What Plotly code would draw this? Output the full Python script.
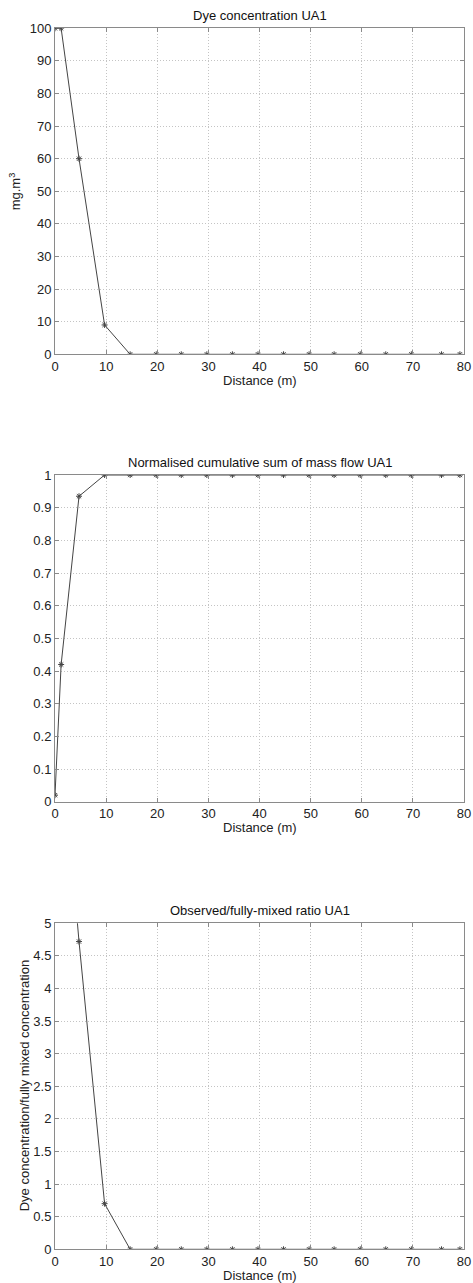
import plotly.graph_objects as go

distance = [0, 1.2, 4.7, 9.7, 14.7, 19.8, 24.7, 29.7, 34.7, 39.7, 44.7, 49.7,
            54.6, 59.7, 64.7, 69.7, 75.6, 79.2]
dye_conc = [100, 100, 60, 9, 0, 0, 0, 0, 0, 0, 0, 0, 0, 0, 0, 0, 0, 0]
cum_mass = [0.02, 0.42, 0.935, 1, 1, 1, 1, 1, 1, 1, 1, 1, 1, 1, 1, 1, 1, 1]
ratio = [7.87, 7.87, 4.72, 0.70, 0, 0, 0, 0, 0, 0, 0, 0, 0, 0, 0, 0, 0, 0]

titles = ["Dye concentration UA1",
          "Normalised cumulative sum of mass flow UA1",
          "Observed/fully-mixed ratio UA1"]
xlabel = "Distance (m)"
ylabels = ["mg.m<sup>3</sup>", "", "Dye concentration/fully mixed concentration"]
yranges = [[0, 100], [0, 1], [0, 5]]
ydticks = [10, 0.1, 0.5]
series = [dye_conc, cum_mass, ratio]

W, H = 473, 1283
L = 55
# plot areas in pixels (top, bottom)
areas = [(28.3, 354.3), (475.0, 801.7), (923.3, 1249.3)]
ylabel_x = [15, 0, 24]

fig = go.Figure()
font = "Liberation Sans, Arial, sans-serif"
for i in range(3):
    n = "" if i == 0 else str(i + 1)
    fig.add_trace(go.Scatter(
        x=distance, y=series[i], mode="lines+markers",
        line=dict(color="#444444", width=1),
        marker=dict(symbol="asterisk-open", size=5,
                    line=dict(color="#555555", width=1)),
        xaxis="x" + n, yaxis="y" + n, showlegend=False))
    top, bot = areas[i]
    dom = [1 - bot / H, 1 - top / H]
    common = dict(showline=True, linecolor="#8a8a8a", linewidth=1, mirror="ticks",
                  ticks="inside", ticklen=4, tickcolor="#8a8a8a",
                  showgrid=True, gridcolor="#c4c4c4", griddash="1px,2px", gridwidth=1,
                  zeroline=False, automargin=False, ticklabeloverflow="allow",
                  tickfont=dict(family=font, size=13, color="#222"))
    fig.layout["xaxis" + n] = dict(
        domain=[0, 1], range=[0, 80], dtick=10, tick0=0, anchor="y" + n,
        **common)
    fig.layout["yaxis" + n] = dict(
        domain=dom, range=yranges[i], dtick=ydticks[i], tick0=0, anchor="x" + n,
        **common)
    fig.add_annotation(
        text=titles[i], xref="paper", yref="paper", x=0.5, y=dom[1],
        yshift=13, xanchor="center", yanchor="middle", showarrow=False,
        font=dict(family=font, size=13, color="#111"))
    fig.add_annotation(
        text=xlabel, xref="paper", yref="paper", x=0.5, y=dom[0],
        yshift=-26, xanchor="center", yanchor="middle", showarrow=False,
        font=dict(family=font, size=13, color="#222"))
    if ylabels[i]:
        fig.add_annotation(
            text=ylabels[i], xref="paper", yref="paper", x=0,
            y=(dom[0] + dom[1]) / 2, xshift=ylabel_x[i] - L, textangle=-90,
            xanchor="center", yanchor="middle", showarrow=False,
            font=dict(family=font, size=13, color="#222"))

fig.update_layout(
    width=W, height=H,
    margin=dict(l=L, r=W - 464, t=0, b=0),
    paper_bgcolor="white", plot_bgcolor="white",
)
fig.write_html("out.html", config={"displayModeBar": False},
               post_script="document.body.style.margin='0px';"
                           "document.body.style.overflow='hidden';")
